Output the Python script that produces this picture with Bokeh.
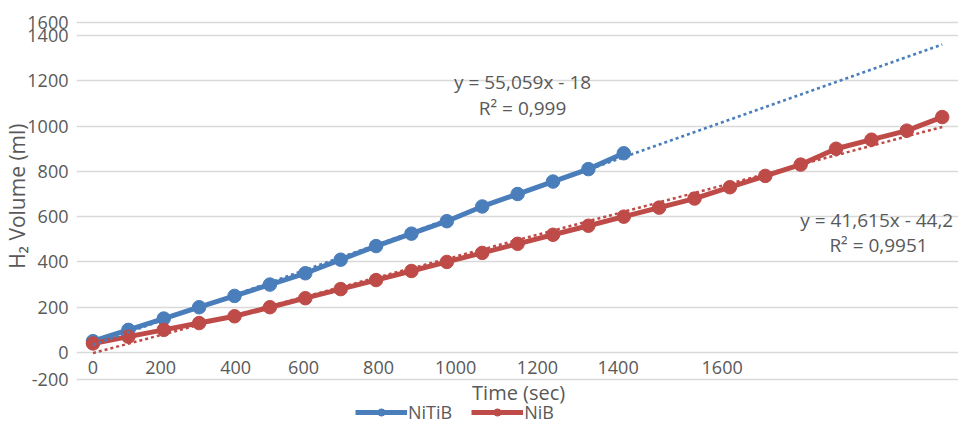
import numpy as np
from bokeh.plotting import figure
from bokeh.models import FixedTicker, Legend, LegendItem, Label, Range1d, ColumnDataSource
from bokeh.core.properties import value
from bokeh.embed import file_html
from bokeh.resources import INLINE

# ---- data ----
series_names = ["NiTiB", "NiB"]
nitib_volume = [50, 100, 150, 200, 250, 300, 350, 410, 470, 525, 580, 645, 700, 755, 810, 880]
nib_volume = [40, 70, 100, 130, 160, 200, 240, 280, 320, 360, 400, 440, 480, 520,
              560, 600, 640, 680, 730, 780, 830, 900, 940, 980, 1040]
trend_end_index = 25  # trendlines are forecast up to this category index

# hand-placed x labels (positions in category-index units, as in the original)
x_tick_pos = [1.0, 2.91, 5.03, 6.95, 9.07, 11.25, 13.56, 15.84, 18.78]
x_tick_labels = ["0", "200", "400", "600", "800", "1000", "1200", "1400", "1600"]

# y ticks (the original's outer labels sit at odd positions)
y_tick_vals = [-118, 0, 200, 400, 600, 800, 1000, 1200, 1400, 1458]
y_tick_labels = ["-200", "0", "200", "400", "600", "800", "1000", "1200", "1400", "1600"]

x_title = "Time (sec)"
y_title = "H\u2082 Volume (ml)"
nitib_eq = ["y = 55,059x - 18", "R\u00b2 = 0,999"]
nib_eq = ["y = 41,615x - 44,2", "R\u00b2 = 0,9951"]

BLUE = "#4A7EBB"
RED = "#BE4B48"
GREY = "#595959"
FONT = "Open Sans"

p = figure(width=958, height=423, output_backend="svg", toolbar_location=None,
           x_range=Range1d(0.534, 25.46), y_range=Range1d(-313.6, 1501.8),
           min_border_left=76, min_border_right=0, min_border_top=12, min_border_bottom=0)
p.outline_line_color = None
p.background_fill_color = "white"
p.border_fill_color = "white"

# grid
p.xgrid.visible = False
p.ygrid.grid_line_color = "#D9D9D9"
p.ygrid.grid_line_width = 1.5

# y axis
p.yaxis.ticker = FixedTicker(ticks=y_tick_vals)
p.yaxis.major_label_overrides = {v: l for v, l in zip(y_tick_vals, y_tick_labels)}
p.yaxis.axis_line_color = None
p.yaxis.major_tick_line_color = None
p.yaxis.minor_tick_line_color = None
p.yaxis.major_label_standoff = 2
p.yaxis.major_label_text_font = FONT
p.yaxis.major_label_text_font_size = "18px"
p.yaxis.major_label_text_color = GREY
# leading no-break spaces lift the (centred) title to where the original has it
p.yaxis.axis_label = "\u00a0" * 8 + y_title
p.yaxis.axis_label_text_font = FONT
p.yaxis.axis_label_text_font_size = "21px"
p.yaxis.axis_label_text_font_style = "normal"
p.yaxis.axis_label_text_color = GREY
p.yaxis.axis_label_standoff = -7

# x axis hidden: its labels are drawn at y = 0 like the original
p.xaxis.visible = False

p.text(x=x_tick_pos, y=[0] * len(x_tick_pos), text=x_tick_labels,
       text_align="center", text_baseline="middle", y_offset=15,
       text_font=value(FONT), text_font_size="18px", text_color=GREY)

p.add_layout(Label(x=13.03, y=-176, text=x_title, text_align="center", text_baseline="middle",
                   text_font=FONT, text_font_size="20px", text_color=GREY))

# series
items = []
for name, vals, col in [(series_names[0], nitib_volume, BLUE), (series_names[1], nib_volume, RED)]:
    idx = list(range(1, len(vals) + 1))
    src = ColumnDataSource(dict(x=idx, y=vals))
    lr = p.line("x", "y", source=src, line_color=col, line_width=5, line_join="round")
    sr = p.scatter("x", "y", source=src, size=13.5, fill_color=col, line_color=col)
    items.append(LegendItem(label=name, renderers=[lr, sr]))

# linear trendlines (fitted to the data, forecast to index 25)
for vals, col in [(nitib_volume, BLUE), (nib_volume, RED)]:
    idx = np.arange(1, len(vals) + 1)
    k, b = np.polyfit(idx, vals, 1)
    tx = np.array([1, trend_end_index])
    p.line(tx, k * tx + b, line_color=col, line_width=2.5, line_dash="3 3")

# trend equations
eq_specs = [(nitib_eq, [13.14, 13.14], [1193, 1082]), (nib_eq, [23.15, 23.2], [587, 473])]
for texts, xs, ys in eq_specs:
    for t, xv, yv in zip(texts, xs, ys):
        p.add_layout(Label(x=xv, y=yv, text=t, text_align="center", text_baseline="middle",
                           text_font=FONT, text_font_size="19px", text_color=GREY))

legend = Legend(items=items, orientation="horizontal", location=(279, -1),
                glyph_width=52, glyph_height=18, label_height=18, label_standoff=1, spacing=19,
                padding=0, margin=0, border_line_color=None, background_fill_alpha=0,
                label_text_font=FONT, label_text_font_size="18px", label_text_color=GREY)
p.add_layout(legend, "center")

open("out.html", "w").write(file_html(p, INLINE))
